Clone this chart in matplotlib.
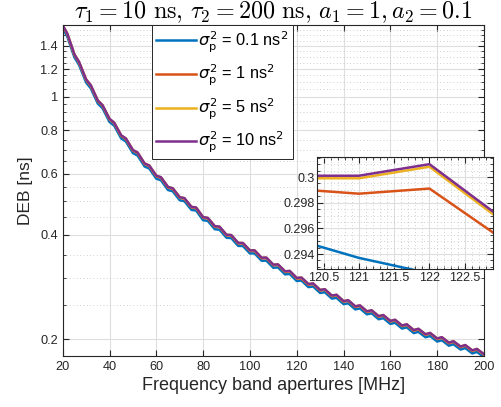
import matplotlib
matplotlib.use('Agg')
import matplotlib.pyplot as plt
from matplotlib.ticker import FixedLocator, NullFormatter

plt.rcParams['font.family'] = ['Liberation Sans', 'DejaVu Sans']

# bandwidth [MHz], read at the ripple troughs/peaks
bw = [20, 22, 25, 27, 30, 32, 35, 37, 40, 42, 45, 47, 50, 52, 55, 57, 60, 62, 65, 67,
      70, 72, 75, 77, 80, 82, 85, 87, 90, 92, 95, 97, 100, 102, 105, 107, 110, 112, 115, 117,
      120, 122, 125, 127, 130, 132, 135, 137, 140, 142, 145, 147, 150, 152, 155, 157, 160, 162, 165, 167,
      170, 172, 175, 177, 180, 182, 185, 187, 190, 192, 195, 197, 200]

deb_01 = [1.573, 1.486, 1.297, 1.233, 1.098, 1.056, 0.9545, 0.9258, 0.8453, 0.8241,
          0.7574, 0.7421, 0.6872, 0.6759, 0.6286, 0.6202, 0.5798, 0.5737, 0.5378, 0.5334,
          0.5026, 0.4995, 0.4715, 0.4693, 0.4402, 0.4383, 0.4146, 0.4134, 0.3917, 0.3910,
          0.3712, 0.3709, 0.3531, 0.3532, 0.3363, 0.3367, 0.3211, 0.3218, 0.3073, 0.3082,
          0.2941, 0.2950, 0.2824, 0.2836, 0.2717, 0.2729, 0.2617, 0.2630, 0.2523, 0.2537,
          0.2436, 0.2452, 0.2357, 0.2374, 0.2282, 0.2299, 0.2212, 0.2229, 0.2145, 0.2163,
          0.2082, 0.2099, 0.2025, 0.2042, 0.1968, 0.1985, 0.1915, 0.1933, 0.1866, 0.1885,
          0.1819, 0.1837, 0.1774]
deb_1 = [1.599, 1.510, 1.318, 1.253, 1.1160, 1.0736, 0.9701, 0.9409, 0.8590, 0.8375,
         0.7698, 0.7542, 0.6984, 0.6869, 0.6388, 0.6304, 0.5892, 0.5831, 0.5466, 0.5421,
         0.5108, 0.5077, 0.4792, 0.4770, 0.4474, 0.4454, 0.4214, 0.4201, 0.3981, 0.3974,
         0.3773, 0.3770, 0.3589, 0.3590, 0.3418, 0.3422, 0.3264, 0.3271, 0.3123, 0.3132,
         0.2989, 0.2991, 0.2870, 0.2882, 0.2761, 0.2774, 0.2659, 0.2673, 0.2564, 0.2579,
         0.2476, 0.2492, 0.2395, 0.2412, 0.2320, 0.2337, 0.2248, 0.2265, 0.2180, 0.2198,
         0.2115, 0.2133, 0.2058, 0.2076, 0.2000, 0.2018, 0.1946, 0.1964, 0.1896, 0.1915,
         0.1849, 0.1867, 0.1803]
deb_5 = [1.604, 1.515, 1.322, 1.257, 1.1199, 1.0774, 0.9735, 0.9442, 0.8621, 0.8405,
         0.7725, 0.7568, 0.7008, 0.6894, 0.6411, 0.6326, 0.5913, 0.5851, 0.5485, 0.5440,
         0.5126, 0.5094, 0.4809, 0.4787, 0.4490, 0.4470, 0.4229, 0.4216, 0.3995, 0.3988,
         0.3786, 0.3783, 0.3601, 0.3602, 0.3430, 0.3434, 0.3275, 0.3282, 0.3134, 0.3143,
         0.2999, 0.3008, 0.2881, 0.2893, 0.2771, 0.2784, 0.2669, 0.2683, 0.2573, 0.2588,
         0.2485, 0.2501, 0.2404, 0.2421, 0.2328, 0.2345, 0.2256, 0.2273, 0.2188, 0.2206,
         0.2123, 0.2141, 0.2065, 0.2083, 0.2007, 0.2025, 0.1953, 0.1971, 0.1903, 0.1922,
         0.1855, 0.1873, 0.1809]
deb_10 = [1.605, 1.516, 1.323, 1.258, 1.1205, 1.0779, 0.974, 0.9447, 0.8625, 0.8409,
          0.7729, 0.7572, 0.7012, 0.6897, 0.6414, 0.6329, 0.5916, 0.5854, 0.5488, 0.5443,
          0.5129, 0.5097, 0.4811, 0.4789, 0.4492, 0.4472, 0.4231, 0.4218, 0.3997, 0.3990,
          0.3788, 0.3785, 0.3603, 0.3604, 0.3432, 0.3436, 0.3277, 0.3284, 0.3136, 0.3145,
          0.3001, 0.3010, 0.2882, 0.2894, 0.2772, 0.2785, 0.2670, 0.2684, 0.2574, 0.2589,
          0.2486, 0.2502, 0.2405, 0.2422, 0.2329, 0.2346, 0.2257, 0.2274, 0.2189, 0.2207,
          0.2124, 0.2142, 0.2066, 0.2084, 0.2008, 0.2026, 0.1954, 0.1972, 0.1904, 0.1923,
          0.1856, 0.1874, 0.1810]

# zoomed part, 1 MHz steps
bw_zoom = [120, 121, 122, 123]
zoom_01 = [0.2953, 0.2937, 0.2925, 0.2890]
zoom_1 = [0.2991, 0.2987, 0.2991, 0.2953]
zoom_5 = [0.2999, 0.2999, 0.3008, 0.2967]
zoom_10 = [0.3001, 0.3001, 0.3010, 0.2969]

labels = [r'$\sigma_{\rm p}^2$ = 0.1 ns$^2$', r'$\sigma_{\rm p}^2$ = 1 ns$^2$',
          r'$\sigma_{\rm p}^2$ = 5 ns$^2$', r'$\sigma_{\rm p}^2$ = 10 ns$^2$']
colors = ['#0072BD', '#D95319', '#EDB120', '#7E2F8E']
yticks = [0.2, 0.4, 0.6, 0.8, 1, 1.2, 1.4]
ytick_labels = ['0.2', '0.4', '0.6', '0.8', '1', '1.2', '1.4']
yminor = [0.25, 0.3, 0.35, 0.45, 0.5, 0.55, 0.65, 0.7, 0.75, 0.85, 0.9, 0.95,
          1.05, 1.1, 1.15, 1.25, 1.3, 1.35, 1.45, 1.5, 1.55]

axcol = '#262626'

def style(ax):
    for s in ax.spines.values():
        s.set_color(axcol)
        s.set_linewidth(0.8)
    ax.tick_params(which='both', direction='in', top=True, right=True, colors=axcol,
                   labelcolor=axcol, labelsize=9.2)
    ax.tick_params(which='major', length=4)
    ax.tick_params(which='minor', length=2)
    ax.grid(True, which='major', color='#dedede', linewidth=0.8)
    ax.grid(True, which='minor', color='#c0c0c0', linestyle=(0, (1, 3)), linewidth=0.6)
    ax.set_axisbelow(True)

fig = plt.figure(figsize=(5.02, 4.07), dpi=100)
ax = fig.add_axes([0.1249, 0.1253, 0.8392, 0.8125])
series = [deb_01, deb_1, deb_5, deb_10]
for ys, c, lab in zip(series, colors, labels):
    ax.plot(bw, ys, color=c, linewidth=1.8, label=lab)
ax.set_yscale('log')
ax.set_xlim(20, 200)
ax.set_ylim(0.1788, 1.604)
ax.set_xticks(range(20, 201, 20))
ax.yaxis.set_major_locator(FixedLocator(yticks))
ax.set_yticklabels(ytick_labels)
ax.yaxis.set_minor_locator(FixedLocator(yminor))
ax.yaxis.set_minor_formatter(NullFormatter())
style(ax)
ax.xaxis.grid(False, which='minor')
ax.set_xlabel('Frequency band apertures [MHz]', fontsize=13, color=axcol, labelpad=3)
ax.set_ylabel('DEB [ns]', fontsize=12.5, color=axcol, labelpad=5)
ax.set_title(r'$\tau_1 = 10\ \mathrm{ns},\, \tau_2 = 200\ \mathrm{ns},\, a_1 = 1, a_2 = 0.1$',
             fontsize=17.4, math_fontfamily='cm', pad=3)

leg = ax.legend(loc='upper left', bbox_to_anchor=(0.212, 1.0), borderaxespad=0,
                fontsize=11.8, handlelength=2.45, handletextpad=0.12, labelspacing=0.52,
                fancybox=False, framealpha=1, edgecolor=axcol, borderpad=0.25)
leg.get_frame().set_linewidth(0.7)

ins = fig.add_axes([0.632, 0.3383, 0.350, 0.276])
for ys, c in zip([zoom_01, zoom_1, zoom_5, zoom_10], colors):
    ins.plot(bw_zoom, ys, color=c, linewidth=1.8)
ins.set_xlim(120.41, 122.9)
ins.set_ylim(0.29281, 0.30156)
ins.set_xticks([120.5, 121, 121.5, 122, 122.5])
ins.set_xticklabels(['120.5', '121', '121.5', '122', '122.5'])
ins.set_yticks([0.294, 0.296, 0.298, 0.3])
ins.set_yticklabels(['0.294', '0.296', '0.298', '0.3'])
ins.xaxis.set_minor_locator(FixedLocator([120.6, 120.7, 120.8, 120.9, 121.1, 121.2, 121.3, 121.4,
                                          121.6, 121.7, 121.8, 121.9, 122.1, 122.2, 122.3, 122.4,
                                          122.6, 122.7, 122.8]))
ins.yaxis.set_minor_locator(FixedLocator([0.2930, 0.2935, 0.2945, 0.2950, 0.2955, 0.2965, 0.2970,
                                          0.2975, 0.2985, 0.2990, 0.2995, 0.3005, 0.3010, 0.3015]))
style(ins)
ins.tick_params(labelsize=9, pad=2)

plt.savefig('out.png', dpi=100)
